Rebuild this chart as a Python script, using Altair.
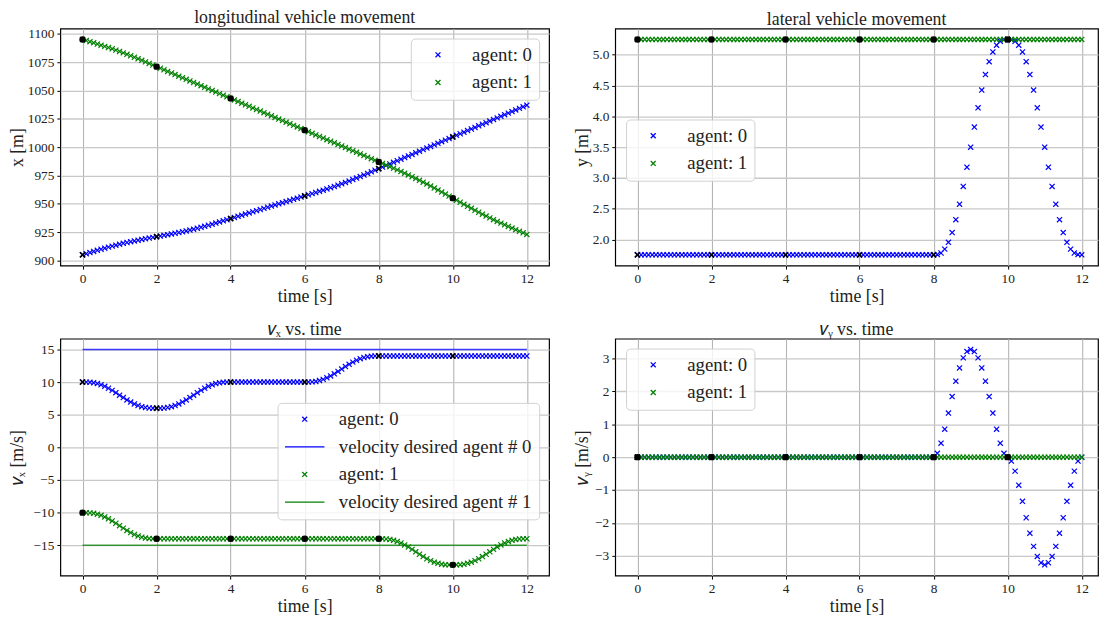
import altair as alt
import pandas as pd

# ---------------- data ----------------
time_s = [round(i * 0.1, 1) for i in range(121)]
waypoint_t = [0, 2, 4, 6, 8, 10]

x_agent0 = [
    905.000, 906.000, 906.998, 907.992, 908.975, 909.943, 910.890, 911.811, 912.701, 913.556,
    914.375, 915.156, 915.901, 916.611, 917.290, 917.943, 918.575, 919.192, 919.798, 920.400,
    921.000, 921.600, 922.202, 922.808, 923.425, 924.057, 924.710, 925.389, 926.099, 926.844,
    927.625, 928.444, 929.299, 930.189, 931.110, 932.057, 933.025, 934.008, 935.002, 936.000,
    937.000, 938.0, 939.0, 940.0, 941.0, 942.0, 943.0, 944.0, 945.0, 946.0,
    947.0, 948.0, 949.0, 950.0, 951.0, 952.0, 953.0, 954.0, 955.0, 956.0,
    957.0, 958.000, 959.002, 960.008, 961.025, 962.057, 963.110, 964.189, 965.299, 966.444,
    967.625, 968.844, 970.099, 971.389, 972.710, 974.057, 975.425, 976.808, 978.202, 979.600,
    981.0, 982.4, 983.8, 985.2, 986.6, 988.0, 989.4, 990.8, 992.2, 993.6,
    995.0, 996.4, 997.8, 999.2, 1000.6, 1002.0, 1003.4, 1004.8, 1006.2, 1007.6,
    1009.0, 1010.4, 1011.8, 1013.2, 1014.6, 1016.0, 1017.4, 1018.8, 1020.2, 1021.6,
    1023.0, 1024.4, 1025.8, 1027.2, 1028.6, 1030.0, 1031.4, 1032.8, 1034.2, 1035.6,
    1037.0,
]
x_agent1 = [
    1095.000, 1094.000, 1092.998, 1091.992, 1090.975, 1089.943, 1088.890, 1087.811, 1086.701, 1085.556,
    1084.375, 1083.156, 1081.901, 1080.611, 1079.290, 1077.943, 1076.575, 1075.192, 1073.798, 1072.400,
    1071.0, 1069.6, 1068.2, 1066.8, 1065.4, 1064.0, 1062.6, 1061.2, 1059.8, 1058.4,
    1057.0, 1055.6, 1054.2, 1052.8, 1051.4, 1050.0, 1048.6, 1047.2, 1045.8, 1044.4,
    1043.0, 1041.6, 1040.2, 1038.8, 1037.4, 1036.0, 1034.6, 1033.2, 1031.8, 1030.4,
    1029.0, 1027.6, 1026.2, 1024.8, 1023.4, 1022.0, 1020.6, 1019.2, 1017.8, 1016.4,
    1015.0, 1013.6, 1012.2, 1010.8, 1009.4, 1008.0, 1006.6, 1005.2, 1003.8, 1002.4,
    1001.0, 999.6, 998.2, 996.8, 995.4, 994.0, 992.6, 991.2, 989.8, 988.4,
    987.0, 985.600, 984.198, 982.792, 981.375, 979.943, 978.490, 977.011, 975.501, 973.956,
    972.375, 970.756, 969.101, 967.411, 965.690, 963.943, 962.175, 960.392, 958.598, 956.800,
    955.000, 953.200, 951.402, 949.608, 947.825, 946.057, 944.310, 942.589, 940.899, 939.244,
    937.625, 936.044, 934.499, 932.989, 931.510, 930.057, 928.625, 927.208, 925.802, 924.400,
    923.000,
]

y_agent0 = [1.75] * 81 + [
    1.754, 1.780, 1.843, 1.953, 2.112, 2.321, 2.573, 2.861, 3.174, 3.500,
    3.826, 4.139, 4.427, 4.679, 4.888, 5.047, 5.157, 5.220, 5.246, 5.250,
    5.246, 5.220, 5.157, 5.047, 4.888, 4.679, 4.427, 4.139, 3.826, 3.500,
    3.174, 2.861, 2.573, 2.321, 2.112, 1.953, 1.843, 1.780, 1.754, 1.750,
]
y_agent1 = [5.25] * 121

vx_agent0 = [
    10.0, 9.995, 9.966, 9.894, 9.768, 9.586, 9.348, 9.059, 8.730, 8.373,
    8.000, 7.627, 7.270, 6.941, 6.652, 6.414, 6.232, 6.106, 6.034, 6.005,
    6.0, 6.005, 6.034, 6.106, 6.232, 6.414, 6.652, 6.941, 7.270, 7.627,
    8.000, 8.373, 8.730, 9.059, 9.348, 9.586, 9.768, 9.894, 9.966, 9.995,
    10.0] + [10.0] * 20 + [
    10.005, 10.034, 10.106, 10.232, 10.414, 10.652, 10.941, 11.270, 11.627, 12.000,
    12.373, 12.730, 13.059, 13.348, 13.586, 13.768, 13.894, 13.966, 13.995, 14.0,
] + [14.0] * 40
vx_agent1 = [
    -10.0, -10.005, -10.034, -10.106, -10.232, -10.414, -10.652, -10.941, -11.270, -11.627,
    -12.000, -12.373, -12.730, -13.059, -13.348, -13.586, -13.768, -13.894, -13.966, -13.995,
    -14.0] + [-14.0] * 60 + [
    -14.005, -14.034, -14.106, -14.232, -14.414, -14.652, -14.941, -15.270, -15.627, -16.000,
    -16.373, -16.730, -17.059, -17.348, -17.586, -17.768, -17.894, -17.966, -17.995, -18.0,
    -17.995, -17.966, -17.894, -17.768, -17.586, -17.348, -17.059, -16.730, -16.373, -16.000,
    -15.627, -15.270, -14.941, -14.652, -14.414, -14.232, -14.106, -14.034, -14.005, -14.0,
]

vy_agent0 = [0.0] * 81 + [
    0.118, 0.425, 0.853, 1.344, 1.846, 2.315, 2.717, 3.024, 3.216, 3.281,
    3.216, 3.024, 2.717, 2.315, 1.846, 1.344, 0.853, 0.425, 0.118, 0.0,
    -0.118, -0.425, -0.853, -1.344, -1.846, -2.315, -2.717, -3.024, -3.216, -3.281,
    -3.216, -3.024, -2.717, -2.315, -1.846, -1.344, -0.853, -0.425, -0.118, 0.0,
]
vy_agent1 = [0.0] * 121

wp_x_agent0 = [905, 921, 937, 957, 981, 1009]
wp_x_agent1 = [1095, 1071, 1043, 1015, 987, 955]
wp_y_agent0 = [1.75, 1.75, 1.75, 1.75, 1.75, 5.25]
wp_y_agent1 = [5.25, 5.25, 5.25, 5.25, 5.25, 5.25]
wp_vx_agent0 = [10, 6, 10, 10, 14, 14]
wp_vx_agent1 = [-10, -14, -14, -14, -14, -18]
wp_vy_agent0 = [0, 0, 0, 0, 0, 0]
wp_vy_agent1 = [0, 0, 0, 0, 0, 0]

desired_t = [0, 12]
desired_v_agent0 = [15, 15]
desired_v_agent1 = [-15, -15]

x_ticks = [0, 2, 4, 6, 8, 10, 12]
ticks_x_pos = [900, 925, 950, 975, 1000, 1025, 1050, 1075, 1100]
ticks_y_pos = [2.0, 2.5, 3.0, 3.5, 4.0, 4.5, 5.0]
ticks_vx = [-15, -10, -5, 0, 5, 10, 15]
ticks_vy = [-3, -2, -1, 0, 1, 2, 3]

# ---------------- style ----------------
FONT = "Liberation Serif"
BLUE = "#0000ff"
GREEN = "#008000"
XPATH = "M-1,-1L1,1M-1,1L1,-1"
LINEPATH = "M-8,0L8,0"
LEFT_W = 495
RIGHT_W = 489
H = 240


def series_df(v0, v1, l0, l1):
    rows = []
    for lab, vals in ((l0, v0), (l1, v1)):
        for t, v in zip(time_s, vals):
            rows.append({"t": t, "v": v, "series": lab})
    return pd.DataFrame(rows)


def panel(title, ytitle, v0, v1, wp0, wp1, ydomain, yticks, yfmt, width, xmax,
          lx, ly, extent, desired=False):
    if desired:
        domain = ["agent: 0", "velocity desired agent # 0", "agent: 1", "velocity desired agent # 1"]
        rng = [BLUE, BLUE, GREEN, GREEN]
        shapes = [XPATH, LINEPATH, XPATH, LINEPATH]
    else:
        domain = ["agent: 0", "agent: 1"]
        rng = [BLUE, GREEN]
        shapes = [XPATH, XPATH]
    pts = series_df(v0, v1, "agent: 0", "agent: 1")
    xenc = alt.X("t:Q", scale=alt.Scale(domain=[-0.6, xmax], nice=False, zero=False),
                 axis=alt.Axis(title="time [s]", values=x_ticks, format="d"))
    yenc = alt.Y("v:Q", scale=alt.Scale(domain=ydomain, nice=False, zero=False),
                 axis=alt.Axis(title=ytitle, values=yticks, format=yfmt,
                               minExtent=extent, maxExtent=extent))
    legend = alt.Legend(
        title=None, orient="none", legendX=lx, legendY=ly,
        labelFont=FONT, labelFontSize=19, labelColor="#222222", labelLimit=400,
        symbolSize=25, symbolStrokeWidth=1.3,
        symbolOffset=11, labelOffset=25, padding=7, rowPadding=8,
        fillColor="rgba(255,255,255,0.8)", strokeColor="#d0d0d0", cornerRadius=4,
    )
    color = alt.Color("series:N", scale=alt.Scale(domain=domain, range=rng), legend=legend)
    shape = alt.Shape("series:N", scale=alt.Scale(domain=domain, range=shapes), legend=legend)

    layers = [
        alt.Chart(pts).mark_point(filled=False, size=27, strokeWidth=1.2, opacity=1)
        .encode(x=xenc, y=yenc, color=color, shape=shape)
    ]
    if desired:
        dd = pd.DataFrame({
            "t": desired_t + desired_t,
            "v": desired_v_agent0 + desired_v_agent1,
            "series": ["velocity desired agent # 0"] * 2 + ["velocity desired agent # 1"] * 2,
        })
        layers.append(alt.Chart(dd).mark_line(strokeWidth=1.6, opacity=0.75)
                      .encode(x=xenc, y=yenc, color=color))
    w0 = pd.DataFrame({"t": waypoint_t, "v": wp0})
    w1 = pd.DataFrame({"t": waypoint_t, "v": wp1})
    layers.append(alt.Chart(w0).mark_point(shape=XPATH, filled=False, size=27, strokeWidth=1.6,
                                           color="black", opacity=1)
                  .encode(x=xenc, y=yenc))
    layers.append(alt.Chart(w1).mark_circle(size=42, color="black", opacity=1)
                  .encode(x=xenc, y=yenc))
    return alt.layer(*layers).properties(
        width=width, height=H,
        title=alt.TitleParams(title, font=FONT, fontSize=18, fontWeight="normal",
                              color="#222222", offset=0, anchor="middle"),
    )


p1 = panel("longitudinal vehicle movement", "x [m]", x_agent0, x_agent1, wp_x_agent0, wp_x_agent1,
           [895.5, 1104.5], ticks_x_pos, "d", LEFT_W, 12.6, 355, 10, 29)
p2 = panel("lateral vehicle movement", "y [m]", y_agent0, y_agent1, wp_y_agent0, wp_y_agent1,
           [1.575, 5.425], ticks_y_pos, ".1f", RIGHT_W, 12.44, 11, 92, 19)
p3 = panel("𝑣ₓ vs. time", "𝑣ₓ [m/s]", vx_agent0, vx_agent1, wp_vx_agent0, wp_vx_agent1,
           [-19.65, 16.65], ticks_vx, "d", LEFT_W, 12.6, 220, 65, 29, desired=True)
p4 = panel("𝑣ᵧ vs. time", "𝑣ᵧ [m/s]", vy_agent0, vy_agent1, wp_vy_agent0, wp_vy_agent1,
           [-3.609, 3.609], ticks_vy, "d", RIGHT_W, 12.44, 11, 10, 19)

top = alt.hconcat(p1, p2, spacing=23).resolve_scale(
    color="independent", shape="independent").resolve_legend(color="independent", shape="independent")
bottom = alt.hconcat(p3, p4, spacing=23).resolve_scale(
    color="independent", shape="independent").resolve_legend(color="independent", shape="independent")
chart = alt.vconcat(top, bottom, spacing=14).resolve_scale(
    color="independent", shape="independent"
).resolve_legend(
    color="independent", shape="independent"
).properties(
    padding={"left": 0, "top": -4, "right": 0, "bottom": 0}
).configure(
    font=FONT,
).configure_view(
    stroke="black", strokeWidth=1.2,
).configure_axis(
    domain=False, ticks=True, tickColor="black", tickSize=3.5, tickWidth=1,
    labelFont=FONT, labelFontSize=13.5, labelColor="#222222", labelPadding=3,
    titleFont=FONT, titleFontSize=18, titleFontWeight="normal", titleColor="#222222",
    titlePadding=5, grid=True,
).configure_axisX(
    gridColor="#b4b4b4", gridWidth=1.1, titlePadding=2,
).configure_axisY(
    gridColor="#c8c8c8", gridWidth=1.3,
)

chart.save("out.html", embed_options={"renderer": "svg", "actions": False})
